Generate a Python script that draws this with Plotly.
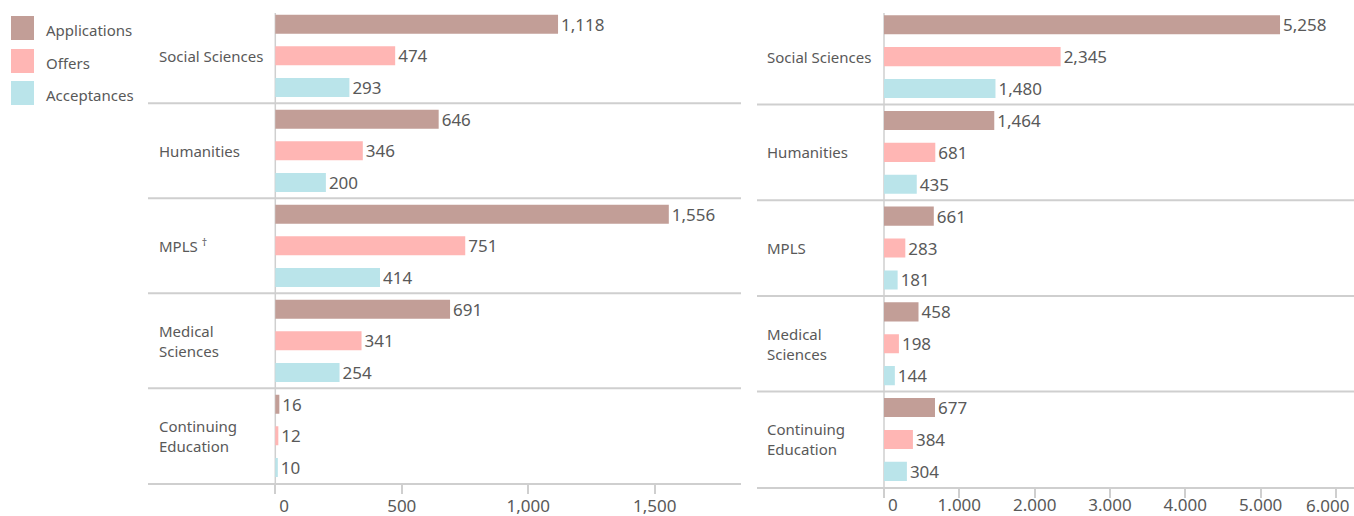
import plotly.graph_objects as go

W, H = 1354, 516

categories = ["Social Sciences", "Humanities", "MPLS", "Medical Sciences", "Continuing Education"]
left_labels = ["Social Sciences", "Humanities", "MPLS <sup>†</sup>", "Medical<br>Sciences", "Continuing<br>Education"]
right_labels = ["Social Sciences", "Humanities", "MPLS", "Medical<br>Sciences", "Continuing<br>Education"]

series_names = ["Applications", "Offers", "Acceptances"]
series_colors = ["#C29E97", "#FFB6B4", "#BAE4EA"]

left_applications = [1118, 646, 1556, 691, 16]
left_offers = [474, 346, 751, 341, 12]
left_acceptances = [293, 200, 414, 254, 10]

right_applications = [5258, 1464, 661, 458, 677]
right_offers = [2345, 681, 283, 198, 384]
right_acceptances = [1480, 435, 181, 144, 304]

NB = "\u00a0\u00a0\u00a0\u00a0"
left_tickvals = [0, 500, 1000, 1500]
left_ticktext = [NB + "0", "500", "1,000", "1,500"]
right_tickvals = [0, 1000, 2000, 3000, 4000, 5000, 6000]
right_ticktext = [NB + "0", "1.000", "2.000", "3.000", "4.000", "5.000", "6.000"]

FONT = "Noto Sans"
TXT = "#595959"
GRID = "#CFCFCF"


def px(xp):
    return xp / W


def py(yp):
    return 1 - yp / H


fig = go.Figure()

left_series = [left_applications, left_offers, left_acceptances]
right_series = [right_applications, right_offers, right_acceptances]

for name, color, vals in zip(series_names, series_colors, left_series):
    fig.add_trace(go.Bar(
        x=vals, y=categories, orientation="h", name=name,
        marker=dict(color=color, line=dict(width=0)),
        texttemplate="%{x:,}", textposition="outside", cliponaxis=False,
        textfont=dict(family=FONT, size=17, color=TXT),
        xaxis="x", yaxis="y", showlegend=False, hoverinfo="x+name",
    ))

for name, color, vals in zip(series_names, series_colors, right_series):
    fig.add_trace(go.Bar(
        x=vals, y=categories, orientation="h", name=name,
        marker=dict(color=color, line=dict(width=0)),
        texttemplate="%{x:,}", textposition="outside", cliponaxis=False,
        textfont=dict(family=FONT, size=17, color=TXT),
        xaxis="x2", yaxis="y2", showlegend=False, hoverinfo="x+name",
    ))

# geometry (pixels)
L0, L1, Lzero, Lscale = 148, 741, 275.3, 0.2529
R0, R1, Rzero, Rscale = 757, 1354, 884.0, 0.07532
Ltop, Lbot = 8.3, 483.3
Rtop, Rbot = 8.8, 487.3

axis_common = dict(
    showgrid=False, zeroline=False, showline=True, linecolor=GRID, linewidth=2,
    ticks="outside", ticklen=9, tickwidth=1.5, tickcolor=GRID,
    tickfont=dict(family=FONT, size=17, color=TXT), fixedrange=True,
    automargin=False, ticklabeloverflow="allow",
)
yaxis_common = dict(showticklabels=False, showgrid=False, zeroline=False,
                    showline=False, ticks="", fixedrange=True, automargin=False,
                    autorange="reversed")

# the last right-hand tick label is drawn as an annotation, pulled inside the page edge
right_axis_ticktext = right_ticktext[:-1] + [""]

fig.update_layout(
    width=W, height=H, margin=dict(l=0, r=0, t=0, b=0, autoexpand=False),
    paper_bgcolor="white", plot_bgcolor="white",
    barmode="group", bargap=0.0, bargroupgap=0.4,
    font=dict(family=FONT, color=TXT),
    xaxis=dict(domain=[px(L0), px(L1)],
               range=[-(Lzero - L0) / Lscale, (L1 - Lzero) / Lscale],
               tickvals=left_tickvals, ticktext=left_ticktext,
               ticklabelstandoff=-3, anchor="y", **axis_common),
    yaxis=dict(domain=[py(Lbot), py(Ltop)], anchor="x", **yaxis_common),
    xaxis2=dict(domain=[px(R0), px(R1)],
                range=[-(Rzero - R0) / Rscale, (R1 - Rzero) / Rscale],
                tickvals=right_tickvals, ticktext=right_axis_ticktext,
                ticklabelstandoff=-8, anchor="y2", **axis_common),
    yaxis2=dict(domain=[py(Rbot), py(Rtop)], anchor="x2", **yaxis_common),
)
fig.update_traces(constraintext="none")

shapes = []
annotations = []

# separators between category bands
for i in range(len(categories) - 1):
    shapes.append(dict(type="line", xref="x domain", yref="y", x0=0, x1=1,
                       y0=i + 0.5, y1=i + 0.5, line=dict(color=GRID, width=2), layer="below"))
    shapes.append(dict(type="line", xref="x2 domain", yref="y2", x0=0, x1=1,
                       y0=i + 0.5, y1=i + 0.5, line=dict(color=GRID, width=2), layer="below"))

# zero lines
shapes.append(dict(type="line", xref="x", yref="paper", x0=0, x1=0,
                   y0=py(Lbot), y1=py(13), line=dict(color=GRID, width=1.5), layer="below"))
shapes.append(dict(type="line", xref="x2", yref="paper", x0=0, x1=0,
                   y0=py(Rbot), y1=py(13), line=dict(color=GRID, width=1.5), layer="below"))

# last right tick label
annotations.append(dict(xref="x2", yref="paper", x=right_tickvals[-1], y=py(505),
                        text=right_ticktext[-1], xanchor="right", yanchor="middle",
                        xshift=14, showarrow=False, borderpad=0,
                        font=dict(family=FONT, size=17, color=TXT)))

# category labels
for cat, lab in zip(categories, left_labels):
    annotations.append(dict(xref="paper", yref="y", x=px(157), y=cat, text=lab,
                            xanchor="left", yanchor="middle", align="left", showarrow=False,
                            font=dict(family=FONT, size=15, color=TXT)))
for cat, lab in zip(categories, right_labels):
    annotations.append(dict(xref="paper", yref="y2", x=px(765), y=cat, text=lab,
                            xanchor="left", yanchor="middle", align="left", showarrow=False,
                            font=dict(family=FONT, size=15, color=TXT)))

# custom legend
legend_tops = [16, 49, 81]
for name, color, top in zip(series_names, series_colors, legend_tops):
    shapes.append(dict(type="rect", xref="paper", yref="paper",
                       x0=px(11), x1=px(34), y0=py(top + 24), y1=py(top),
                       fillcolor=color, line=dict(width=0)))
    annotations.append(dict(xref="paper", yref="paper", x=px(44), y=py(top + 14),
                            text=name, xanchor="left", yanchor="middle", showarrow=False,
                            font=dict(family=FONT, size=15, color=TXT)))

fig.update_layout(shapes=shapes, annotations=annotations)

fig.write_html("out.html", config={"displayModeBar": False},
               post_script="document.body.style.margin='0';document.body.style.overflow='hidden';")
